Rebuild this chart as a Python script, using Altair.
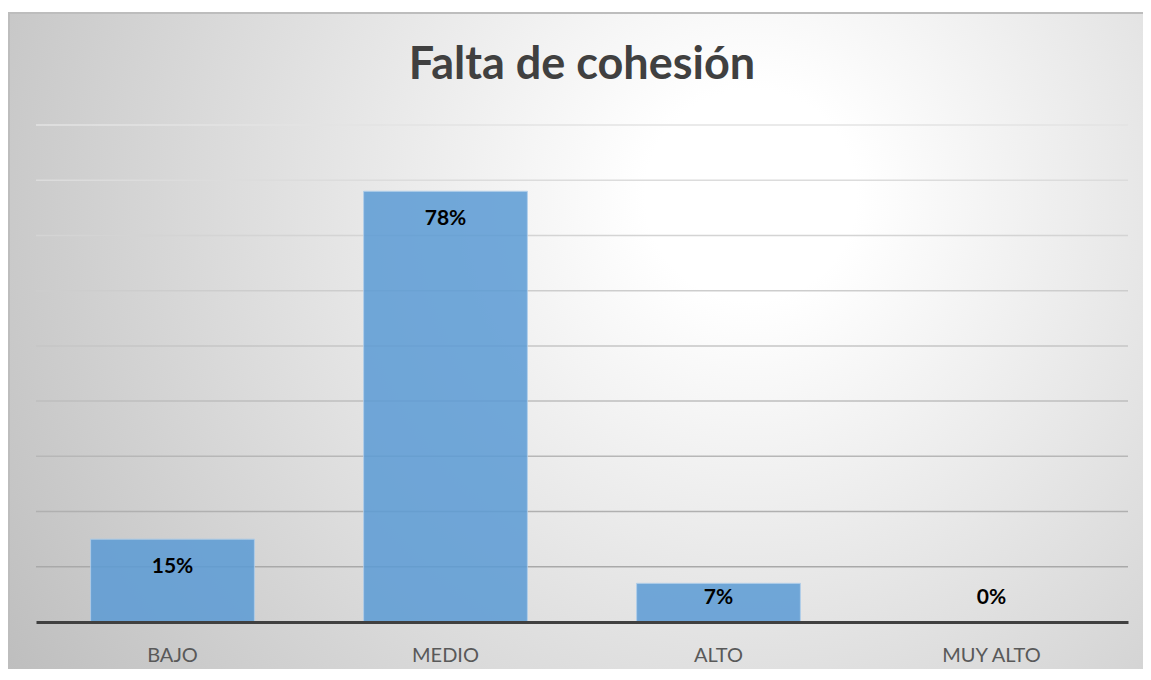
import altair as alt
import pandas as pd

title_text = "Falta de cohesión"
categories = ["BAJO", "MEDIO", "ALTO", "MUY ALTO"]
values = [15, 78, 7, 0]
grid_values = [10, 20, 30, 40, 50, 60, 70, 80, 90]

W, H = 1092, 497
FONT = "Lato"

df = pd.DataFrame({"cat": categories, "val": values})
grid_df = pd.DataFrame({"g": grid_values})
one = pd.DataFrame({"t": [title_text]})

yscale = alt.Scale(domain=[0, 90], nice=False, zero=True)
xscale = alt.Scale(domain=categories, paddingInner=0.4, paddingOuter=0.2)
xaxis = alt.Axis(title=None, labelAngle=0, labelFont=FONT, labelFontSize=20,
                 labelColor="#595959", ticks=False, tickSize=0, grid=False,
                 domainColor="#404040", domainWidth=3, labelPadding=23, zindex=1)

bg = alt.Chart(one).mark_rect(
    color=alt.Gradient(
        gradient="radial",
        x1=0.64, y1=0.36, r1=0.0,
        x2=0.64, y2=0.36, r2=0.76,
        stops=[
            alt.GradientStop(offset=0, color="#ffffff"),
            alt.GradientStop(offset=0.12, color="#ffffff"),
            alt.GradientStop(offset=1, color="#bebebe"),
        ],
    ),
    stroke="#bdbdbd",
    strokeWidth=2,
).encode(
    x=alt.value(-27), x2=alt.value(W + 40),
    y=alt.value(-112), y2=alt.value(H + 80),
)

grid = alt.Chart(grid_df).mark_rule(strokeWidth=1.5).encode(
    y=alt.Y("g:Q", scale=yscale, axis=None),
    color=alt.Color("g:Q", scale=alt.Scale(domain=[10, 90], range=["#a9a9a9", "#e3e3e3"]), legend=None),
)

bars = alt.Chart(df).mark_bar(
    color="#5b9bd5", opacity=0.85, stroke="#a9cbea", strokeWidth=1, strokeOpacity=1
).encode(
    x=alt.X("cat:N", sort=categories, scale=xscale, axis=xaxis),
    y=alt.Y("val:Q", scale=yscale, axis=None),
)

labels = alt.Chart(df).transform_calculate(
    label="format(datum.val, 'd') + '%'",
    ly="max(datum.val - 5.0, 4.35)",
).mark_text(font=FONT, fontSize=21, fontWeight="bold", color="#000000", baseline="middle").encode(
    x=alt.X("cat:N", sort=categories, scale=xscale, axis=xaxis),
    y=alt.Y("ly:Q", scale=yscale, axis=None),
    text="label:N",
)

title = alt.Chart(one).mark_text(
    font=FONT, fontSize=45, fontWeight="bold", color="#404040", baseline="middle"
).encode(
    x=alt.value(W / 2), y=alt.value(-60), text="t:N"
)

chart = alt.layer(bg, grid, bars, labels, title).properties(
    width=W, height=H,
    autosize=alt.AutoSizeParams(type="none"),
    padding={"left": 28, "top": 117, "right": 15, "bottom": 47},
).configure_view(stroke=None)

chart.save("out.html", embed_options={"renderer": "svg", "actions": False})
